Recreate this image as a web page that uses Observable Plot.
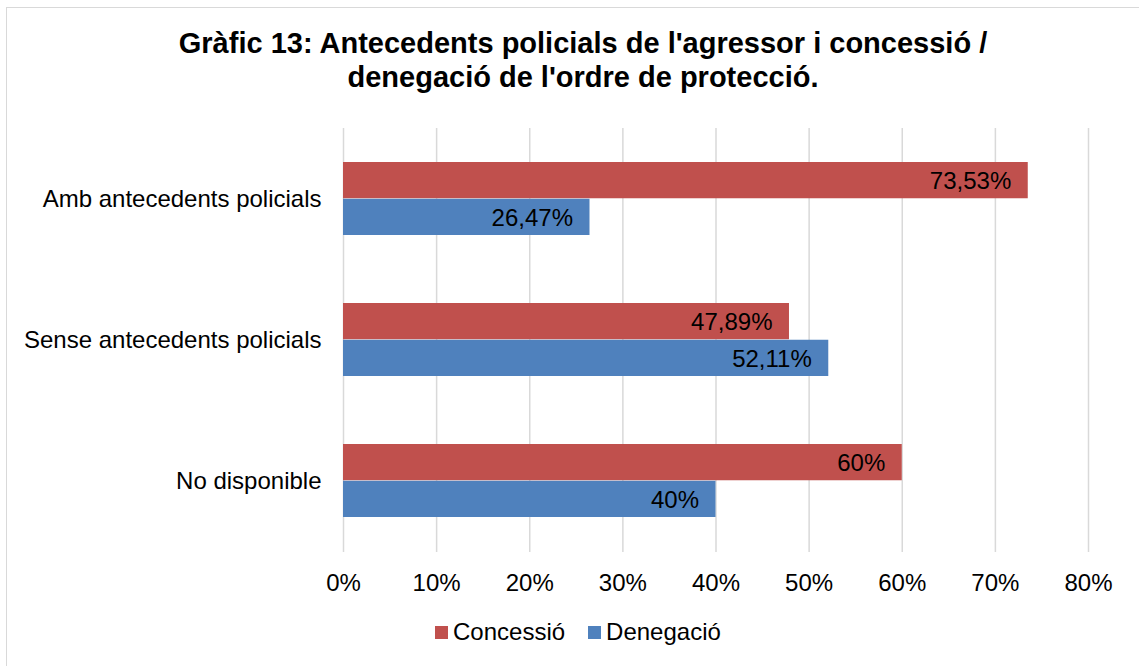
<!DOCTYPE html>
<html>
<head>
<meta charset="utf-8">
<script src="https://cdn.jsdelivr.net/npm/d3@7"></script>
<script src="https://cdn.jsdelivr.net/npm/@observablehq/plot@0.6"></script>
<style>
  html, body { margin: 0; padding: 0; background: #fff; }
  body { width: 1139px; height: 666px; position: relative; overflow: hidden; font-family: "Liberation Sans", Arial, sans-serif; }
  #frame { position: absolute; left: 6px; top: 7px; width: 1160px; height: 700px; border: 1.5px solid #D9D9D9; box-sizing: border-box; }
  #title { position: absolute; left: 0; width: 1166px; top: 26px; text-align: center; font-weight: bold; font-size: 29px; line-height: 34px; color: #000; }
  #chart { position: absolute; left: 0; top: 0; }
  #legend { position: absolute; top: 618px; left: 435px; display: flex; align-items: center; font-size: 24px; color: #000; }
  .sw { width: 13px; height: 13px; display: inline-block; margin-right: 5px; }
  .item { display: flex; align-items: center; margin-right: 23px; }
</style>
</head>
<body>
<div id="frame"></div>
<div id="title">Gràfic 13: Antecedents policials de l'agressor i concessió /<br>denegació de l'ordre de protecció.</div>
<div id="chart"></div>
<div id="legend"></div>
<script>
const categories = ["Amb antecedents policials", "Sense antecedents policials", "No disponible"];
const series = ["Concessió", "Denegació"];
const concessio = [73.53, 47.89, 60];
const denegacio = [26.47, 52.11, 40];
const xTicks = [0, 10, 20, 30, 40, 50, 60, 70, 80];
const colors = ["#C0504D", "#4F81BD"];

const fmt = v => (Number.isInteger(v) ? String(v) : v.toFixed(2).replace(".", ",")) + "%";

const conData = categories.map((c, i) => ({category: c, value: concessio[i], series: series[0]}));
const denData = categories.map((c, i) => ({category: c, value: denegacio[i], series: series[1]}));

const W = 1139, H = 620;
const mTop = 128, mBottom = H - 552;
const bw = (552 - mTop) / categories.length * 0.52;

const chart = Plot.plot({
  width: W,
  height: H,
  marginTop: mTop,
  marginBottom: mBottom,
  marginLeft: 343,
  marginRight: W - 1088,
  style: {fontFamily: "'Liberation Sans', Arial, sans-serif", fontSize: "24px", color: "#000", background: "transparent"},
  x: {domain: [0, 80], ticks: xTicks, tickFormat: d => d + "%", tickSize: 0, tickPadding: 21, label: null},
  y: {domain: categories, paddingInner: 0.48, paddingOuter: 0.24, tickSize: 0, tickPadding: 22, label: null},
  marks: [
    Plot.gridX(xTicks, {stroke: "#D9D9D9", strokeOpacity: 1, strokeWidth: 1.5}),
    Plot.barX(conData, {x: "value", y: "category", fill: colors[0], insetBottom: bw / 2}),
    Plot.barX(denData, {x: "value", y: "category", fill: colors[1], insetTop: bw / 2}),
    Plot.text(conData, {x: "value", y: "category", text: d => fmt(d.value), textAnchor: "end", dx: -17, dy: -bw / 4 + 1, fill: "#000", fontSize: 24}),
    Plot.text(denData, {x: "value", y: "category", text: d => fmt(d.value), textAnchor: "end", dx: -17, dy: bw / 4 + 1, fill: "#000", fontSize: 24})
  ]
});
document.getElementById("chart").appendChild(chart);

const legend = document.getElementById("legend");
series.forEach((s, i) => {
  const item = document.createElement("div");
  item.className = "item";
  const sw = document.createElement("span");
  sw.className = "sw";
  sw.style.background = colors[i];
  item.appendChild(sw);
  item.appendChild(document.createTextNode(s));
  legend.appendChild(item);
});
</script>
</body>
</html>
